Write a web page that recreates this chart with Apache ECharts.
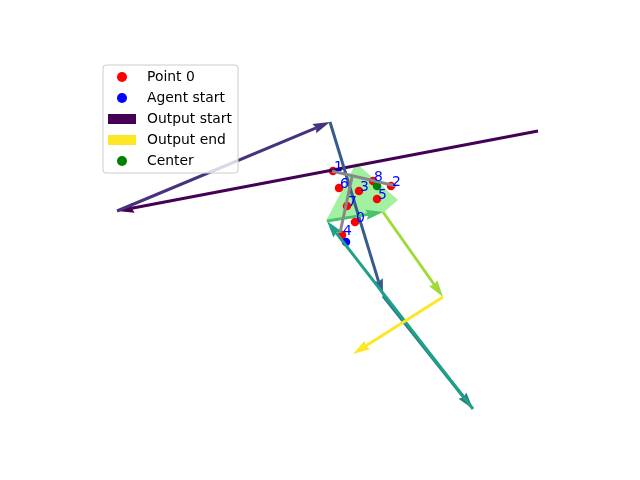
<!DOCTYPE html>
<html><head><meta charset="utf-8">
<script src="https://cdn.jsdelivr.net/npm/echarts@6/dist/echarts.min.js"></script>
<style>html,body{margin:0;padding:0;background:#fff}#c{width:640px;height:480px}</style>
</head><body><div id="c"></div>
<script>
// Path of the output arrows (consecutive nodes)
const pathX = [458, 37, 250, 303, 393, 247, 303, 363, 273];
const pathY = [296, 216, 305, 131, 18, 206, 215, 130, 73];
const arrowColors = ['#440154','#46327e','#365c8d','#277f8e','#1fa187','#4ac16d','#a0da39','#fde725'];
// Labelled points
const pointLabels = ['0','1','2','3','4','5','6','7','8'];
const pointX = [275, 253, 311, 279, 262, 297, 259, 267, 293];
const pointY = [205, 256, 241, 236, 192, 228, 239, 221, 246];
const agentStart = [266, 185];
const center = [297, 241];
// Light green region
const areaX = [276, 318, 304, 246];
const areaY = [264, 227, 215, 206];
// Grey agent bars
const barX1 = [252, 272], barY1 = [256, 250];
const barX2 = [316, 260], barY2 = [241, 194];

const FONT = 'DejaVu Sans';
const arrows = [];
for (let k = 0; k < pathX.length - 1; k++) arrows.push([k, pathX[k], pathY[k], pathX[k+1], pathY[k+1]]);
const points = pointX.map((x, i) => ({value: [x, pointY[i]], name: pointLabels[i]}));

function arrowItem(params, api) {
  const color = arrowColors[api.value(0)];
  const p1 = api.coord([api.value(1), api.value(2)]);
  const p2 = api.coord([api.value(3), api.value(4)]);
  const dx = p2[0] - p1[0], dy = p2[1] - p1[1];
  const len = Math.hypot(dx, dy);
  const ux = dx / len, uy = dy / len, nx = -uy, ny = ux;
  const L = 17, W = 5, A = 15;
  const b = [p2[0] - ux * L, p2[1] - uy * L];
  const n = [p2[0] - ux * A, p2[1] - uy * A];
  return {type: 'group', children: [
    {type: 'line', shape: {x1: p1[0], y1: p1[1], x2: n[0], y2: n[1]}, style: {stroke: color, lineWidth: 3, lineCap: 'butt'}},
    {type: 'polygon', shape: {points: [p2, [b[0] + nx * W, b[1] + ny * W], n, [b[0] - nx * W, b[1] - ny * W]]}, style: {fill: color}}
  ]};
}

const chart = echarts.init(document.getElementById('c'), null, {renderer: 'canvas'});
chart.setOption({
  animation: false,
  backgroundColor: '#ffffff',
  grid: {left: 80, top: 57, width: 496, height: 370},
  xAxis: {type: 'value', min: 0, max: 496, show: false},
  yAxis: {type: 'value', min: 0, max: 370, show: false},
  legend: {
    orient: 'vertical', left: 103, top: 65,
    data: [
      {name: 'Point 0', icon: 'circle'},
      {name: 'Agent start', icon: 'circle'},
      {name: 'Output start', icon: 'rect'},
      {name: 'Output end', icon: 'rect'},
      {name: 'Center', icon: 'circle'}
    ],
    itemWidth: 28, itemHeight: 10, itemGap: 7,
    padding: [5, 6, 5, 5],
    borderColor: '#cccccc', borderWidth: 1, borderRadius: 3,
    backgroundColor: 'rgba(255,255,255,0.8)',
    selectedMode: false,
    textStyle: {fontFamily: FONT, fontSize: 13.9, color: '#000', lineHeight: 14, padding: [0, 0, 0, 6]}
  },
  series: [
    {
      type: 'custom', name: 'area', z: 1, silent: true,
      data: [0],
      renderItem: function (params, api) {
        const pts = areaX.map((x, i) => api.coord([x, areaY[i]]));
        return {type: 'polygon', shape: {points: pts}, style: {fill: '#90ee90', opacity: 0.85}};
      }
    },
    {
      type: 'scatter', name: 'Point 0', z: 2, symbolSize: 8.5,
      itemStyle: {color: '#ff0000', opacity: 1}, data: points
    },
    {
      type: 'scatter', name: 'Agent start', z: 2, symbolSize: 8.5,
      itemStyle: {color: '#0000ff', opacity: 1}, data: [agentStart]
    },
    {
      type: 'scatter', name: 'Center', z: 2, symbolSize: 8.5,
      itemStyle: {color: '#008000', opacity: 1}, data: [center]
    },
    {
      type: 'custom', name: 'Output start', z: 3, itemStyle: {color: arrowColors[0]},
      encode: {x: [1, 3], y: [2, 4]},
      data: arrows.slice(0, 1), renderItem: arrowItem
    },
    {
      type: 'custom', name: 'arrows', z: 3, itemStyle: {color: arrowColors[3]},
      encode: {x: [1, 3], y: [2, 4]},
      data: arrows.slice(1, arrows.length - 1), renderItem: arrowItem
    },
    {
      type: 'custom', name: 'Output end', z: 3, itemStyle: {color: arrowColors[7]},
      encode: {x: [1, 3], y: [2, 4]},
      data: arrows.slice(arrows.length - 1), renderItem: arrowItem
    },
    {
      type: 'custom', name: 'bars', z: 4, silent: true,
      encode: {x: [0, 2], y: [1, 3]},
      data: barX1.map((x, i) => [x, barY1[i], barX2[i], barY2[i]]),
      renderItem: function (params, api) {
        const a = api.coord([api.value(0), api.value(1)]);
        const b = api.coord([api.value(2), api.value(3)]);
        return {type: 'line', shape: {x1: a[0], y1: a[1], x2: b[0], y2: b[1]}, style: {stroke: '#888888', lineWidth: 3}};
      }
    },
    {
      type: 'scatter', name: 'labels', z: 6, symbolSize: 8, silent: true,
      itemStyle: {color: 'rgba(0,0,0,0)', opacity: 1},
      data: points,
      label: {
        show: true, formatter: '{b}', position: [5, 7], align: 'left', verticalAlign: 'bottom',
        fontFamily: FONT, fontSize: 13.9, lineHeight: 14, color: '#0000ff', opacity: 1
      }
    }
  ]
});
</script>
</body></html>
